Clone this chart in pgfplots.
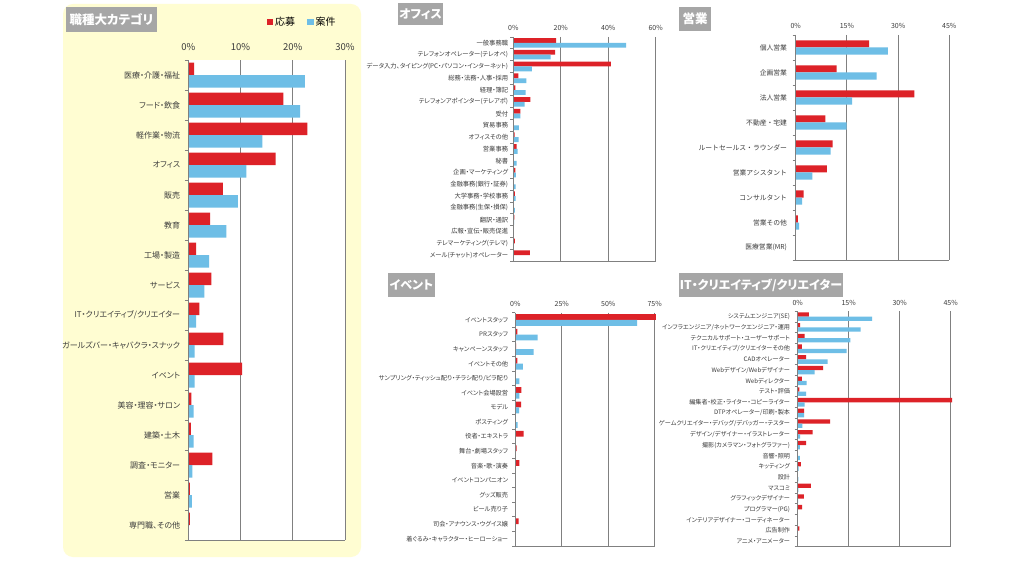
\documentclass[border=0pt]{standalone}
\usepackage{fontspec}
\setmainfont{Noto Sans CJK JP}[RawFeature={+palt}]
\newfontfamily\widefont{Noto Sans CJK JP}
\usepackage{pgfplots}
\pgfplotsset{compat=1.18}
\definecolor{cred}{RGB}{221,34,40}
\definecolor{cblue}{RGB}{110,190,230}
\definecolor{gridc}{RGB}{128,128,128}
\definecolor{panelY}{RGB}{255,253,210}
\definecolor{titleg}{RGB}{166,166,166}
\definecolor{txt}{RGB}{60,60,60}
\pgfplotsset{
  panel/.style={
    xbar, scale only axis, anchor=north west, y dir=reverse,
    axis line style={draw=none},
    xmin=0, xmajorgrids, grid style={gridc, line width=0.9pt},
    xticklabel pos=upper, xtick pos=upper, major x tick style={draw=none},
    ytick pos=left, major y tick style={draw=none},
    minor y tick style={draw=gridc, line width=0.9pt},
    tick align=outside, minor tick length=3.5pt, major tick length=0pt,
    xticklabel={\pgfmathprintnumber{\tick}\%},
    /pgf/number format/assume math mode=true,
    yticklabel style={text=txt, inner sep=0pt},
    xticklabel style={text=txt, inner sep=0pt},
    axis background/.style={fill=white},
    clip=false,
    after end axis/.code={\draw[gridc, line width=0.9pt] (axis description cs:0,1) -- (axis description cs:0,0) -- (axis description cs:1,0);},
  },
  redbar/.style={fill=cred, draw=none, bar shift=#1},
  bluebar/.style={fill=cblue, draw=none, bar shift=-#1},
}
\newcommand{\fs}[1]{\fontsize{#1}{#1}\selectfont}
\begin{document}
\begin{tikzpicture}
\fill[white] (0pt,0pt) rectangle (1022pt,560pt);
\useasboundingbox (0pt,0pt) rectangle (1022pt,560pt);
% left yellow panel
\fill[panelY, rounded corners=10pt] (63pt,3pt) rectangle (361pt,556pt);
% title boxes
\fill[titleg] (66pt,528pt) rectangle (157pt,553pt);
\node[text=white, font=\bfseries\fs{12.5}] at (111.5pt,540.5pt) {職種大カテゴリ};
\fill[titleg] (398pt,535pt) rectangle (443pt,557pt);
\node[text=white, font=\bfseries\fs{12}] at (420.5pt,546pt) {オフィス};
\fill[titleg] (679pt,529pt) rectangle (711pt,553pt);
\node[text=white, font=\bfseries\fs{12.5}] at (695pt,541pt) {営業};
\fill[titleg] (388pt,263pt) rectangle (435pt,287pt);
\node[text=white, font=\bfseries\fs{12}] at (411.5pt,275pt) {イベント};
\fill[titleg] (679pt,263pt) rectangle (843pt,287pt);
\node[text=white, font=\bfseries\fs{12}] at (761pt,275pt) {IT・クリエイティブ/クリエイター};

% ---------- left panel ----------
\begin{axis}[panel, at={(188.3pt,500pt)}, width=156.7pt, height=480pt,
  xmax=30, xtick={0,10,20,30}, ymin=-0.5, ymax=15.5,
  ytick={0,...,15}, minor ytick={-0.5,0.5,...,15.5},
  bar width=12.5pt,
  yticklabel style={font=\fs{8}, xshift=-8pt},
  xticklabel style={font=\fs{9.5}, yshift=9pt},
  yticklabels={医療・介護・福祉,フード・飲食,軽作業・物流,オフィス,販売,教育,工場・製造,サービス,IT・クリエイティブ/クリエイター,ガールズバー・キャバクラ・スナック,イベント,美容・理容・サロン,建築・土木,調査・モニター,営業,専門職、その他},
  legend columns=2,
  legend style={at={(0.726,1.079)}, anchor=center, draw=none, fill=none, font=\fs{10},
    /tikz/every even column/.append style={column sep=10pt}},
]
\addplot[redbar=6.25pt, legend image code/.code={\fill[cred] (0pt,-3pt) rectangle (6.5pt,3.5pt);}] coordinates {
(1.1,0) (18.2,1) (22.8,2) (16.7,3) (6.6,4) (4.2,5) (1.5,6) (4.4,7)
(2.1,8) (6.7,9) (10.3,10) (0.6,11) (0.5,12) (4.6,13) (0.3,14) (0.3,15)};
\addlegendentry{応募}
\addplot[bluebar=6.25pt, legend image code/.code={\fill[cblue] (0pt,-3pt) rectangle (6.5pt,3.5pt);}] coordinates {
(22.3,0) (21.4,1) (14.2,2) (11.1,3) (9.5,4) (7.3,5) (4.0,6) (3.1,7)
(1.5,8) (1.2,9) (1.2,10) (1.0,11) (1.0,12) (0.8,13) (0.7,14) (0.1,15)};
\addlegendentry{案件}
\end{axis}

% ---------- office ----------
\begin{axis}[panel, at={(513.3pt,523pt)}, width=142.4pt, height=224pt,
  xmax=60, xtick={0,20,40,60}, ymin=-0.5, ymax=18.5,
  ytick={0,...,18}, minor ytick={-0.5,0.5,...,18.5},
  bar width=4.8pt, minor tick length=3pt,
  yticklabel style={font=\fs{6.3}, xshift=-5pt},
  xticklabel style={font=\fs{7}, yshift=6pt},
  yticklabels={一般事務職,テレフォンオペレーター(テレオペ),データ入力、タイピング(PC・パソコン・インターネット),総務・法務・人事・採用,経理・簿記,テレフォンアポインター(テレアポ),受付,貿易事務,オフィスその他,営業事務,秘書,企画・マーケティング,金融事務(銀行・証券),大学事務・学校事務,金融事務(生保・損保),翻訳・通訳,広報・宣伝・販売促進,テレマーケティング(テレマ),メール(チャット)オペレーター},
]
\addplot[redbar=2.4pt] coordinates {
(18.0,0) (17.6,1) (41.1,2) (2.1,3) (0.9,4) (7.2,5) (3.0,6) (0.2,7) (0.6,8) (1.4,9)
(0.2,10) (0.9,11) (0.2,12) (0.7,13) (0.1,14) (0.4,15) (0.2,16) (0.7,17) (7.0,18)};
\addplot[bluebar=2.4pt] coordinates {
(47.5,0) (15.7,1) (7.8,2) (5.5,3) (5.2,4) (4.8,5) (3.0,6) (2.3,7) (2.2,8) (1.8,9)
(1.4,10) (1.1,11) (1.0,12) (1.0,13) (0.7,14) (0.3,15) (0.2,16) (0,17) (0,18)};
\end{axis}

% ---------- sales ----------
\begin{axis}[panel, at={(795.7pt,525pt)}, width=153.6pt, height=225pt,
  xmax=45, xtick={0,15,30,45}, ymin=-0.5, ymax=8.5,
  ytick={0,...,8}, minor ytick={-0.5,0.5,...,8.5},
  bar width=7.2pt, minor tick length=3pt,
  yticklabel style={font=\widefont\fs{6.8}, xshift=-8.5pt},
  xticklabel style={font=\fs{7}, yshift=6pt},
  yticklabels={個人営業,企画営業,法人営業,不動産・宅建,ルートセールス・ラウンダー,営業アシスタント,コンサルタント,営業その他,医療営業(MR)},
]
\addplot[redbar=3.6pt] coordinates {
(21.5,0) (12.0,1) (34.8,2) (8.7,3) (10.8,4) (9.1,5) (2.3,6) (0.6,7) (0,8)};
\addplot[bluebar=3.6pt] coordinates {
(27.0,0) (23.7,1) (16.5,2) (14.9,3) (10.2,4) (4.9,5) (1.9,6) (1.0,7) (0,8)};
\end{axis}

% ---------- event ----------
\begin{axis}[panel, at={(515.3pt,247.3pt)}, width=139.4pt, height=233.3pt,
  xmax=75, xtick={0,25,50,75}, ymin=-0.5, ymax=15.5,
  ytick={0,...,15}, minor ytick={-0.5,0.5,...,15.5},
  bar width=5.8pt, minor tick length=3pt,
  yticklabel style={font=\fs{6.2}, xshift=-7pt},
  xticklabel style={font=\fs{7}, yshift=6pt},
  yticklabels={イベントスタッフ,PRスタッフ,キャンペーンスタッフ,イベントその他,サンプリング・ティッシュ配り・チラシ配り/ビラ配り,イベント会場設営,モデル,ポスティング,役者・エキストラ,舞台・劇場スタッフ,音楽・歌・演奏,イベントコンパニオン,グッズ販売,ビール売り子,司会・アナウンス・ウグイス嬢,着ぐるみ・キャラクター・ヒーローショー},
]
\addplot[redbar=2.9pt] coordinates {
(75.7,0) (1.1,1) (0.5,2) (1.1,3) (0.2,4) (3.2,5) (3.1,6) (0,7)
(4.5,8) (0.7,9) (2.2,10) (0.2,11) (0.1,12) (0.3,13) (1.8,14) (0,15)};
\addplot[bluebar=2.9pt] coordinates {
(65.5,0) (12.0,1) (9.9,2) (4.1,3) (2.2,4) (2.2,5) (2.0,6) (1.3,7)
(0,8) (0,9) (0,10) (0,11) (0,12) (0,13) (0,14) (0,15)};
\end{axis}

% ---------- IT ----------
\begin{axis}[panel, at={(797.7pt,248.7pt)}, width=153pt, height=235.4pt,
  xmax=45, xtick={0,15,30,45}, ymin=-0.5, ymax=21.5,
  ytick={0,...,21}, minor ytick={-0.5,0.5,...,21.5},
  bar width=4.3pt, minor tick length=3pt,
  yticklabel style={font=\fs{6.1}, xshift=-7.5pt},
  xticklabel style={font=\fs{7}, yshift=6pt},
  yticklabels={システムエンジニア(SE),インフラエンジニア/ネットワークエンジニア・運用,テクニカルサポート・ユーザーサポート,IT・クリエイティブ/クリエイターその他,CADオペレーター,Webデザイン/Webデザイナー,Webディレクター,テスト・評価,編集者・校正・ライター・コピーライター,DTPオペレーター/印刷・製本,ゲームクリエイター・デバッグ/デバッガー・テスター,デザイン/デザイナー・イラストレーター,撮影(カメラマン・フォトグラファー),音響・照明,キッティング,設計,マスコミ,グラフィックデザイナー,プログラマー(PG),インテリアデザイナー・コーディネーター,広告制作,アニメ・アニメーター},
]
\addplot[redbar=2.15pt] coordinates {
(3.3,0) (0.7,1) (2.0,2) (1.2,3) (2.5,4) (7.5,5) (1.2,6) (0.5,7) (45.4,8) (1.9,9) (9.5,10)
(4.4,11) (2.5,12) (0,13) (0.9,14) (0,15) (3.9,16) (1.8,17) (1.3,18) (0,19) (0.5,20) (0,21)};
\addplot[bluebar=2.15pt] coordinates {
(21.9,0) (18.5,1) (15.5,2) (14.4,3) (8.8,4) (5.0,5) (2.6,6) (2.5,7) (2.0,8) (1.9,9) (1.4,10)
(0.7,11) (0.6,12) (0.6,13) (0.3,14) (0.2,15) (0.2,16) (0.1,17) (0,18) (0,19) (0,20) (0,21)};
\end{axis}
\end{tikzpicture}
\end{document}
